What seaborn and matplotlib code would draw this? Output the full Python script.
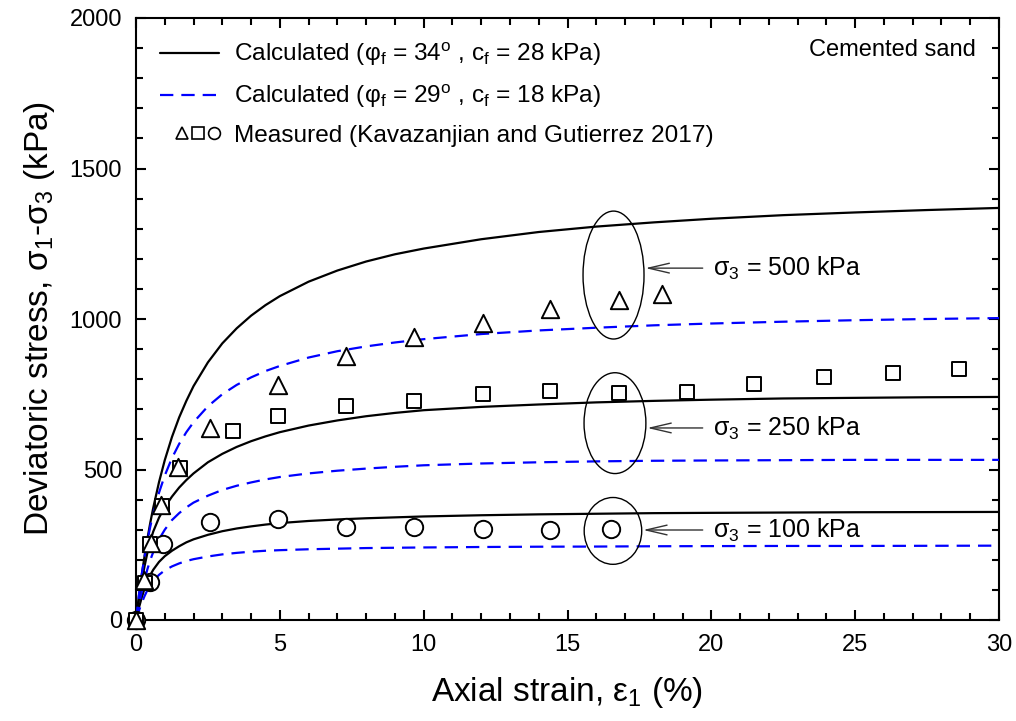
import numpy as np
import pandas as pd
import matplotlib
matplotlib.use("Agg")
import matplotlib.pyplot as plt
import seaborn as sns
from matplotlib.patches import Ellipse
from matplotlib.lines import Line2D
from matplotlib.legend_handler import HandlerTuple

# ---------------- data ----------------
strain_calc = [0, 0.1, 0.2, 0.3, 0.4, 0.5, 0.6, 0.8, 1.0, 1.25, 1.5, 1.75, 2.0, 2.5, 3.0, 3.5,
               4.0, 4.5, 5, 6, 7, 8, 9, 10, 12, 14, 16, 18, 20, 22.5, 25, 27.5, 30]
# Calculated, phi_f = 34 deg, c_f = 28 kPa
calc1_500 = [0, 79, 150, 214, 272, 325, 373, 458, 531, 608, 673, 728, 777, 856, 919, 969,
             1011, 1046, 1076, 1124, 1161, 1191, 1215, 1234, 1265, 1289, 1307, 1321, 1333, 1345, 1354, 1362, 1369]
calc1_250 = [0, 68, 128, 180, 225, 263, 294, 340, 375, 410, 440, 465, 487, 524, 552, 575,
             594, 610, 624, 646, 663, 677, 688, 697, 708, 716, 723, 728, 732, 736, 738, 740, 741]
calc1_100 = [0, 40, 75, 105, 130, 150, 167, 193, 212, 230, 245, 258, 268, 283, 295, 304,
             311, 317, 322, 329, 334, 338, 341, 344, 348, 351, 353, 355, 356, 357, 358, 358.5, 359]
# Calculated, phi_f = 29 deg, c_f = 18 kPa
calc2_500 = [0, 82, 152, 212, 265, 312, 353, 423, 480, 538, 585, 624, 657, 710, 750, 781,
             806, 827, 844, 872, 893, 909, 922, 933, 950, 962, 971, 979, 985, 991, 996, 1000, 1003]
calc2_250 = [0, 50, 95, 135, 170, 200, 226, 268, 300, 332, 355, 374, 390, 413, 432, 446,
             457, 467, 475, 487, 496, 503, 509, 514, 520, 524, 527, 529, 530, 531, 532, 532, 532]
calc2_100 = [0, 30, 57, 80, 100, 116, 130, 150, 165, 178, 188, 196, 202, 211, 218, 223,
             227, 230, 232, 235, 237, 239, 240, 241, 242.5, 243.5, 244, 245, 245.5, 246, 246, 246.5, 247]

# Measured (Kavazanjian and Gutierrez 2017)
tri_x = [0, 0.28, 0.52, 0.87, 1.46, 2.57, 4.94, 7.3, 9.66, 12.06, 14.4, 16.8, 18.3]
tri_y = [0, 133, 256, 382, 508, 638, 781, 877, 940, 987, 1033, 1063, 1083]
sq_x = [0, 0.31, 0.49, 0.9, 1.53, 3.37, 4.94, 7.3, 9.66, 12.06, 14.4, 16.8, 19.15, 21.5, 23.9, 26.3, 28.6]
sq_y = [0, 123, 252, 379, 505, 628, 678, 711, 728, 751, 761, 754, 757, 784, 807, 820, 834]
circ_x = [0, 0.5, 0.94, 2.57, 4.94, 7.3, 9.66, 12.06, 14.4, 16.5]
circ_y = [0, 125, 252, 325, 335, 310, 310, 302, 299, 302]

sigma3_levels = [500, 250, 100]
ellipse_center_x = [16.6, 16.65, 16.58]
ellipse_center_y = [1146, 654, 296]
ellipse_w = [2.12, 2.15, 2.0]
ellipse_h = [425, 335, 222]
arrow_y = [1169, 638, 299]

legend_labels = [r"Calculated (φ$_\mathrm{f}$ = 34$^\mathrm{o}$ , c$_\mathrm{f}$ = 28 kPa)",
                 r"Calculated (φ$_\mathrm{f}$ = 29$^\mathrm{o}$ , c$_\mathrm{f}$ = 18 kPa)",
                 "Measured (Kavazanjian and Gutierrez 2017)"]

# ---------------- style ----------------
sns.set_style("ticks")
plt.rcParams["font.family"] = ["Liberation Sans", "DejaVu Sans"]
plt.rcParams["mathtext.fontset"] = "custom"
plt.rcParams["mathtext.rm"] = "Liberation Sans"
plt.rcParams["mathtext.it"] = "Liberation Sans:italic"
plt.rcParams["mathtext.bf"] = "Liberation Sans:bold"
for key in ["axes.edgecolor", "xtick.color", "ytick.color", "text.color", "axes.labelcolor"]:
    plt.rcParams[key] = "black"

rows = []
for model, series in (("A", [calc1_500, calc1_250, calc1_100]),
                      ("B", [calc2_500, calc2_250, calc2_100])):
    for s3, vals in zip(sigma3_levels, series):
        for x, y in zip(strain_calc, vals):
            rows.append({"strain": x, "q": y, "model": model, "s3": s3})
df = pd.DataFrame(rows)

fig = plt.figure(figsize=(10.16, 7.21), dpi=100)
ax = fig.add_axes([136 / 1016, 1 - 620 / 721, (999 - 136) / 1016, (620 - 18) / 721])

sns.lineplot(data=df, x="strain", y="q", hue="model", style="model", units="s3",
             estimator=None, sort=False, palette={"A": "black", "B": "#0000ff"},
             dashes={"A": "", "B": (6, 3.6)}, linewidth=1.6, legend=False, ax=ax, zorder=2)

sns.scatterplot(x=circ_x, y=circ_y, marker="o", s=12.5 ** 2, color="white",
                edgecolor="black", linewidth=1.4, ax=ax, zorder=3, clip_on=False)
sns.scatterplot(x=sq_x, y=sq_y, marker="s", s=10.5 ** 2, color="white",
                edgecolor="black", linewidth=1.4, ax=ax, zorder=4, clip_on=False)
sns.scatterplot(x=tri_x, y=tri_y, marker="^", s=12.5 ** 2, color="white",
                edgecolor="black", linewidth=1.4, ax=ax, zorder=5, clip_on=False)

for cx, cy, w, h, ay, s3 in zip(ellipse_center_x, ellipse_center_y, ellipse_w, ellipse_h,
                                arrow_y, sigma3_levels):
    ax.add_patch(Ellipse((cx, cy), w, h, fill=False, ec="black", lw=1.0, zorder=6))
    ax.annotate("", xy=(cx + w / 2 + 0.05, ay), xytext=(19.7, ay),
                arrowprops=dict(arrowstyle="->,head_length=1.5,head_width=0.35",
                                mutation_scale=10, lw=1.0, color="#333333",
                                shrinkA=0, shrinkB=0), zorder=6)
    ax.text(20.06, ay, r"σ$_\mathrm{3}$ = %d kPa" % s3, va="center", ha="left", fontsize=18)

ax.text(29.2, 1894, "Cemented sand", ha="right", va="center", fontsize=17)

ax.set_xlim(0, 30)
ax.set_ylim(0, 2000)
ax.set_xticks(np.arange(0, 31, 5))
ax.set_yticks(np.arange(0, 2001, 500))
ax.set_xticks(np.arange(0, 31, 1), minor=True)
ax.set_yticks(np.arange(0, 2001, 100), minor=True)
ax.tick_params(which="both", direction="in", top=True, right=True, width=1.5, labelsize=17)
ax.tick_params(which="major", length=7.5)
ax.tick_params(axis="x", which="major", pad=10)
ax.tick_params(axis="y", which="major", pad=10)
ax.tick_params(which="minor", length=5)
for sp in ax.spines.values():
    sp.set_linewidth(1.5)
    sp.set_visible(True)
    sp.set_zorder(1)

ax.set_xlabel(r"Axial strain, ε$_\mathrm{1}$ (%)", fontsize=24, labelpad=14)
ax.set_ylabel(r"Deviatoric stress, σ$_\mathrm{1}$-σ$_\mathrm{3}$ (kPa)", fontsize=24, labelpad=9)


class ShiftedTuple(HandlerTuple):
    def create_artists(self, legend, orig_handle, xdescent, ydescent, width, height, fontsize, trans):
        return super().create_artists(legend, orig_handle, xdescent - 6, ydescent,
                                      width, height, fontsize, trans)


h1 = Line2D([], [], color="black", lw=1.6)
h2 = Line2D([], [], color="#0000ff", lw=1.6, dashes=(6, 3.6))
mt = Line2D([], [], ls="", marker="^", ms=9.0, mfc="white", mec="black", mew=1.2)
ms_ = Line2D([], [], ls="", marker="s", ms=8.0, mfc="white", mec="black", mew=1.2)
mc = Line2D([], [], ls="", marker="o", ms=8.5, mfc="white", mec="black", mew=1.2)
leg = ax.legend([h1, h2, (mt, ms_, mc)], legend_labels,
                handler_map={tuple: ShiftedTuple(ndivide=None, pad=-0.45)},
                loc="upper left", bbox_to_anchor=(24 / 863, 1 - 23 / 602),
                frameon=False, fontsize=17.6, handlelength=2.4, handletextpad=0.62,
                labelspacing=0.6, borderpad=0, borderaxespad=0)

fig.savefig("out.png", dpi=100)
